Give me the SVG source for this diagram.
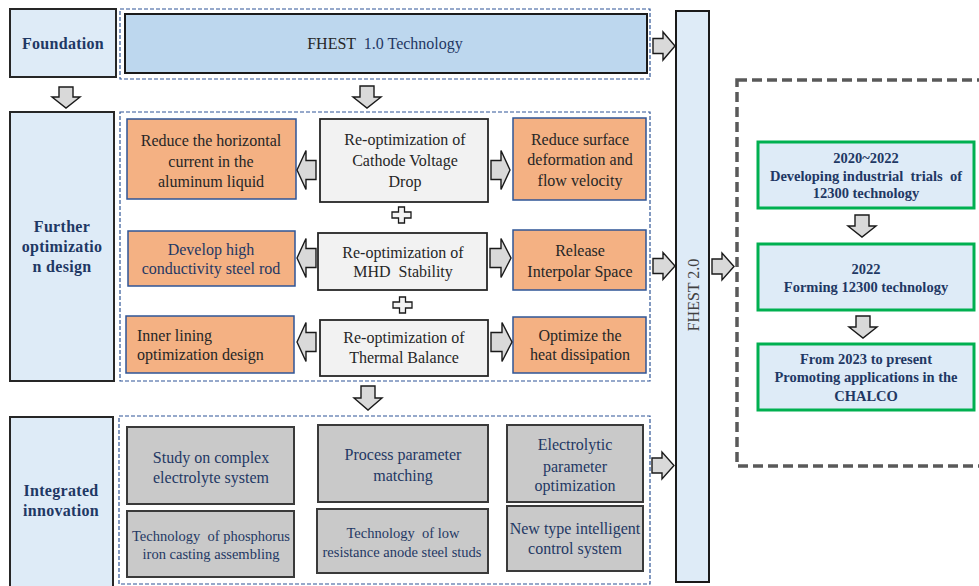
<svg xmlns="http://www.w3.org/2000/svg" width="979" height="586" viewBox="0 0 979 586" font-family="'Liberation Serif', 'DejaVu Serif', serif">
<style>
text{font-family:'Liberation Serif','DejaVu Serif',serif;text-anchor:middle}
.lbl{fill:#deebf7;stroke:#262626;stroke-width:2}
.lt{font-weight:bold;font-size:16px;fill:#1f3864;letter-spacing:0.3px}
.cont{fill:none;stroke:#2f5597;stroke-width:1.2;stroke-dasharray:4 2}
.or{fill:#f4b183;stroke:#2f5597;stroke-width:1.5}
.cg{fill:#f2f2f2;stroke:#262626;stroke-width:1.8}
.bg{fill:#c9c9c9;stroke:#3a3a3a;stroke-width:2}
.gr{fill:#deebf7;stroke:#00b050;stroke-width:3}
.ba{fill:#d9d9d9;stroke:#1a1a1a;stroke-width:1.4;stroke-linejoin:miter}
.t16{font-size:16px;fill:#262626}
.tb{font-size:16px;fill:#1f3864}
.tb14{font-size:14.5px;fill:#1f3864}
.gt{font-weight:bold;font-size:14.5px;fill:#1f3864}
</style>

<!-- left labels -->
<g id="foundation"><rect class="lbl" x="10" y="9" width="106" height="68"/><text class="lt" x="63" y="48.5">Foundation</text></g>
<g id="further"><rect class="lbl" x="10" y="112" width="104" height="269"/><text class="lt" x="62" y="232">Further</text><text class="lt" x="62" y="252">optimizatio</text><text class="lt" x="62" y="272">n design</text></g>
<g id="integrated"><rect class="lbl" x="10" y="417" width="103" height="172"/><text class="lt" x="61" y="496">Integrated</text><text class="lt" x="61" y="516">innovation</text></g>

<!-- containers -->
<g id="containers">
<rect class="cont" x="120" y="9" width="530" height="70"/>
<rect class="cont" x="120" y="112" width="530" height="269"/>
<rect class="cont" x="119" y="416" width="531" height="168"/>
</g>

<g id="fhest10"><rect x="125" y="14" width="522" height="59" fill="#bdd7ee" stroke="#1a1a1a" stroke-width="2"/><text x="385" y="48.5" font-size="16px" fill="#262626" xml:space="preserve">FHEST  <tspan fill="#1f3864">1.0 Technology</tspan></text></g>

<!-- middle section -->
<g id="o1"><rect class="or" x="127" y="119" width="169" height="80"/><text class="t16" x="211" y="145.5">Reduce the horizontal</text><text class="t16" x="211" y="166.5">current in the</text><text class="t16" x="211" y="186.5">aluminum liquid</text></g>
<g id="o2"><rect class="or" x="128" y="231" width="167" height="55"/><text class="tb" x="211" y="254.5">Develop high</text><text class="tb" x="211" y="273.5">conductivity steel rod</text></g>
<g id="o3"><rect class="or" x="126" y="316" width="168" height="57"/><text class="t16" x="137" y="340.5" style="text-anchor:start">Inner lining</text><text class="t16" x="137" y="359.5" style="text-anchor:start">optimization design</text></g>

<g id="c1"><rect class="cg" x="320" y="119" width="168" height="83"/><text class="t16" x="405" y="145">Re-optimization of</text><text class="t16" x="405" y="165.5">Cathode Voltage</text><text class="t16" x="405" y="186.5">Drop</text></g>
<g id="c2"><rect class="cg" x="318" y="233" width="169" height="57"/><text class="t16" x="403" y="257.5">Re-optimization of</text><text class="t16" x="403" y="276.5" xml:space="preserve">MHD  Stability</text></g>
<g id="c3"><rect class="cg" x="320" y="320" width="168" height="56"/><text class="t16" x="404" y="342.5">Re-optimization of</text><text class="t16" x="404" y="362.5">Thermal Balance</text></g>

<g id="r1"><rect class="or" x="513" y="118" width="133" height="82"/><text class="t16" x="580" y="144.5">Reduce surface</text><text class="t16" x="580" y="164.5">deformation and</text><text class="t16" x="580" y="185.5">flow velocity</text></g>
<g id="r2"><rect class="or" x="513" y="230" width="133" height="60"/><text class="t16" x="580" y="255.5">Release</text><text class="t16" x="580" y="276.5">Interpolar Space</text></g>
<g id="r3"><rect class="or" x="513" y="317" width="133" height="56"/><text class="t16" x="580" y="340.5">Optimize the</text><text class="t16" x="580" y="359.5">heat dissipation</text></g>

<!-- bottom section -->
<g id="b1"><rect class="bg" x="127" y="427" width="167" height="77"/><text class="tb" x="211" y="462.5">Study on complex</text><text class="tb" x="211" y="482.5">electrolyte system</text></g>
<g id="b2"><rect class="bg" x="127" y="511" width="167" height="66"/><text class="tb14" x="211" y="541" xml:space="preserve">Technology  of phosphorus</text><text class="tb14" x="211" y="559">iron casting assembling</text></g>
<g id="b3"><rect class="bg" x="318" y="425" width="170" height="77"/><text class="tb" x="403" y="459.5">Process parameter</text><text class="tb" x="403" y="480.5">matching</text></g>
<g id="b4"><rect class="bg" x="317" y="509" width="171" height="64"/><text class="tb14" x="403" y="538" xml:space="preserve">Technology  of low</text><text class="tb14" x="402" y="557">resistance anode steel studs</text></g>
<g id="b5"><rect class="bg" x="507" y="425" width="136" height="77"/><text class="tb" x="575" y="449.5">Electrolytic</text><text class="tb" x="575" y="471.5">parameter</text><text class="tb" x="575" y="490.5">optimization</text></g>
<g id="b6"><rect class="bg" x="507" y="506" width="136" height="65"/><text class="tb" x="575" y="533.5">New type intelligent</text><text class="tb" x="575" y="553.5">control system</text></g>

<!-- FHEST 2.0 -->
<g id="fhest20"><rect x="676" y="11" width="33" height="571" fill="#deebf7" stroke="#1a1a1a" stroke-width="2"/><text x="0" y="0" font-size="16px" fill="#404040" transform="translate(698.5,295) rotate(-90)">FHEST 2.0</text></g>

<!-- right dashed box -->
<g id="stages">
<rect x="737" y="80" width="270" height="386" fill="none" stroke="#595959" stroke-width="3.5" stroke-dasharray="10 5"/>
<g id="g1"><rect class="gr" x="758" y="142" width="216" height="66"/><text class="gt" x="866" y="163">2020~2022</text><text class="gt" x="866" y="181" xml:space="preserve">Developing industrial  trials  of</text><text class="gt" x="866" y="198">12300 technology</text></g>
<g id="g2"><rect class="gr" x="758" y="244" width="216" height="66"/><text class="gt" x="866" y="274">2022</text><text class="gt" x="866" y="292">Forming 12300 technology</text></g>
<g id="g3"><rect class="gr" x="758" y="344" width="216" height="66"/><text class="gt" x="866" y="364">From 2023 to present</text><text class="gt" x="866" y="382">Promoting applications in the</text><text class="gt" x="866" y="401">CHALCO</text></g>
</g>

<!-- connectors -->
<g id="connectors">
<path class="ba" d="M59,87 h14 v10 h7 l-14,11 l-14,-11 h7 z"/>
<path class="ba" d="M360,86 h14 v11 h7 l-14,11 l-14,-11 h7 z"/>
<path class="ba" d="M361,386 h14 v12 h7 l-14,12 l-14,-12 h7 z"/>
<path class="ba" d="M855,215 h14 v11 h7 l-14,11 l-14,-11 h7 z"/>
<path class="ba" d="M856,316 h14 v11 h7 l-14,11 l-14,-11 h7 z"/>

<path class="ba" d="M653,38.5 h10 v-6.5 l12,14 l-12,14 v-6.5 h-10 z"/>
<path class="ba" d="M653,258.5 h10 v-6 l12,13.5 l-12,13.5 v-6 h-10 z"/>
<path class="ba" d="M652,458 h10 v-6 l12,13.5 l-12,13.5 v-6 h-10 z"/>
<path class="ba" d="M712,259 h10 v-6 l12,13.5 l-12,13.5 v-6 h-10 z"/>

<path class="ba" d="M297,170 L306,150.5 V160.5 H316 V179.5 H306 V189.5 Z"/>
<path class="ba" d="M297,258 L306,238.5 V248.5 H316 V267.5 H306 V277.5 Z"/>
<path class="ba" d="M297,342 L306,322.5 V332.5 H316 V351.5 H306 V361.5 Z"/>
<path class="ba" d="M491,160.5 H501 V150.5 L510,170 L501,189.5 V179.5 H491 Z"/>
<path class="ba" d="M490,248.5 H501 V238.5 L511,258 L501,277.5 V267.5 H490 Z"/>
<path class="ba" d="M491,332.5 H502 V322.5 L512,342 L502,361.5 V351.5 H491 Z"/>

<path d="M398.5,207 h6 v5 h6.5 v6 h-6.5 v5 h-6 v-5 h-6.5 v-6 h6.5 z" fill="#f2f2f2" stroke="#1a1a1a" stroke-width="1.3"/>
<path d="M399.5,297 h6 v5 h6.5 v6 h-6.5 v5 h-6 v-5 h-6.5 v-6 h6.5 z" fill="#f2f2f2" stroke="#1a1a1a" stroke-width="1.3"/>
</g>
</svg>
